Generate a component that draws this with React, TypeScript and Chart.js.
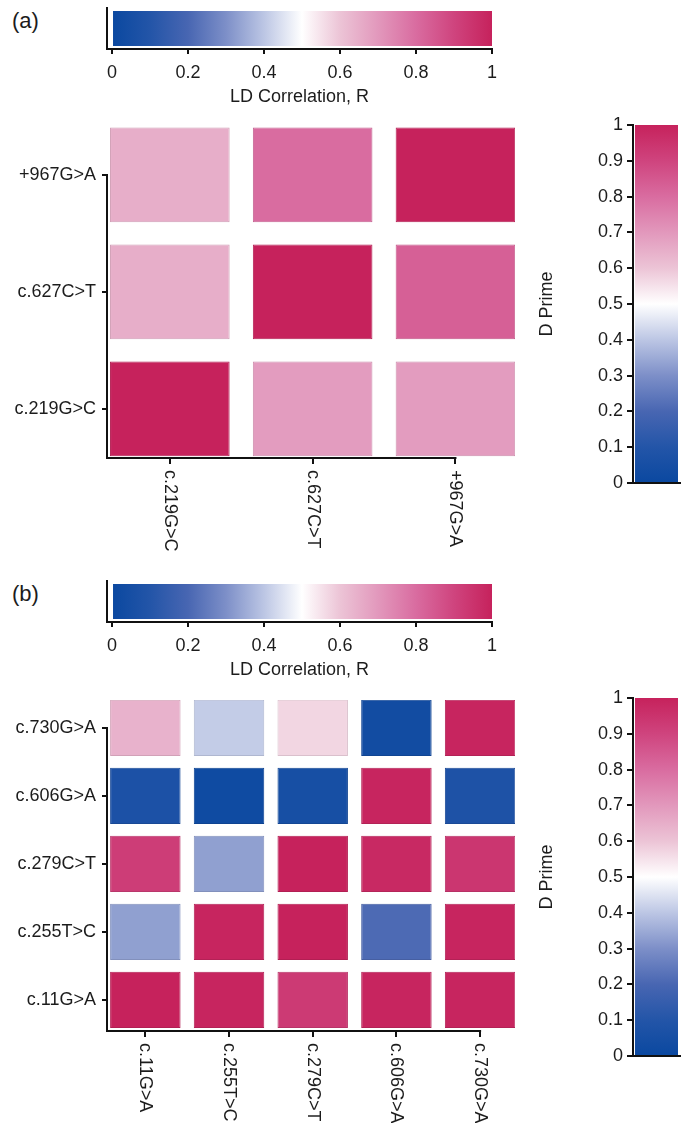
import React, { useEffect, useRef } from 'react';
import { Chart, registerables } from 'chart.js';

Chart.register(...registerables);

const FONT = "'Liberation Sans', Arial, Helvetica, sans-serif";
const INK = '#1c1c1c';

// ---------- Panel (a) ----------
const snpsA = ['c.219G>C', 'c.627C>T', '+967G>A'];
// rows listed bottom -> top, columns left -> right (same SNP order)
const valuesA_c219 = [1.0, 0.69, 0.69];
const valuesA_c627 = [0.65, 1.0, 0.83];
const valuesA_p967 = [0.65, 0.8, 1.0];
const valuesA = [valuesA_c219, valuesA_c627, valuesA_p967];

// ---------- Panel (b) ----------
const snpsB = ['c.11G>A', 'c.255T>C', 'c.279C>T', 'c.606G>A', 'c.730G>A'];
const valuesB_c11 = [1.0, 0.99, 0.93, 0.99, 0.99];
const valuesB_c255 = [0.33, 0.99, 1.0, 0.21, 0.99];
const valuesB_c279 = [0.92, 0.33, 1.0, 0.98, 0.94];
const valuesB_c606 = [0.07, 0.02, 0.05, 0.99, 0.08];
const valuesB_c730 = [0.64, 0.41, 0.57, 0.03, 0.99];
const valuesB = [valuesB_c11, valuesB_c255, valuesB_c279, valuesB_c606, valuesB_c730];

// ---------- colour scales ----------
const rTicks = [0, 0.2, 0.4, 0.6, 0.8, 1];
const dTicks = [0, 0.1, 0.2, 0.3, 0.4, 0.5, 0.6, 0.7, 0.8, 0.9, 1];
const cmapPos = [0, 0.1, 0.2, 0.3, 0.4, 0.5, 0.6, 0.7, 0.8, 0.9, 1];
const cmapRGB: number[][] = [
  [10, 72, 160],
  [35, 85, 168],
  [72, 102, 178],
  [125, 143, 200],
  [188, 198, 228],
  [255, 255, 255],
  [236, 196, 214],
  [226, 152, 188],
  [217, 108, 160],
  [207, 68, 126],
  [198, 34, 92],
];

function colorFor(v: number, shade = 1): string {
  let i = 0;
  while (i < cmapPos.length - 2 && v > cmapPos[i + 1]) i++;
  const t = Math.max(0, Math.min(1, (v - cmapPos[i]) / (cmapPos[i + 1] - cmapPos[i])));
  const a = cmapRGB[i], b = cmapRGB[i + 1];
  const c = a.map((x, k) => Math.round((x + (b[k] - x) * t) * shade));
  return `rgb(${c[0]},${c[1]},${c[2]})`;
}

function gradientFor(chart: any, axis: 'x' | 'y') {
  const area = chart.chartArea;
  if (!area) return 'rgba(0,0,0,0)';
  const s = chart.scales[axis];
  const p0 = s.getPixelForValue(0);
  const p1 = s.getPixelForValue(1);
  const g = axis === 'x'
    ? chart.ctx.createLinearGradient(p0, 0, p1, 0)
    : chart.ctx.createLinearGradient(0, p0, 0, p1);
  cmapPos.forEach((p) => g.addColorStop(p, colorFor(p)));
  return g;
}

const tickFont = { family: FONT, size: 18 };

function useChart(makeConfig: () => any) {
  const ref = useRef<HTMLCanvasElement>(null);
  useEffect(() => {
    const chart = new Chart(ref.current as HTMLCanvasElement, makeConfig());
    return () => chart.destroy();
  }, []);
  return ref;
}

// ---------- horizontal colour bar (LD Correlation, R) ----------
function TopBar({ top }: { top: number }) {
  const W = 520, H = 115;
  const ref = useChart(() => ({
    type: 'bar',
    data: {
      labels: [''],
      datasets: [{
        data: [[0, 1]],
        backgroundColor: (ctx: any) => gradientFor(ctx.chart, 'x'),
        borderWidth: 0,
        categoryPercentage: 0.854,
        barPercentage: 1,
      }],
    },
    options: {
      indexAxis: 'y',
      responsive: false,
      animation: false,
      layout: { padding: { top: 8, right: 28, left: 0, bottom: 0 } },
      plugins: { legend: { display: false }, tooltip: { enabled: false } },
      scales: {
        x: {
          type: 'linear', min: -0.0132, max: 1,
          afterBuildTicks: (s: any) => { s.ticks = rTicks.map(v => ({ value: v })); },
          ticks: { padding: 8, color: INK, font: tickFont, callback: (_v: any, i: number) => String(rTicks[i]) },
          grid: { display: true, drawOnChartArea: false, drawTicks: true, tickLength: 5, color: '#111', lineWidth: 2 },
          border: { display: true, color: '#111', width: 2 },
          title: { display: true, text: 'LD Correlation, R', color: INK, font: tickFont, padding: { top: 0, bottom: 7 } },
          afterFit: (s: any) => { s.height = 66; },
        },
        y: {
          type: 'category',
          ticks: { display: false },
          grid: { display: false },
          border: { display: true, color: '#111', width: 2 },
          afterFit: (s: any) => { s.width = 107; },
        },
      },
    },
  }));
  return <canvas ref={ref} width={W} height={H} style={{ position: 'absolute', left: 0, top, width: W, height: H }} />;
}

// ---------- vertical colour bar (D Prime) ----------
function SideBar({ top }: { top: number }) {
  const W = 171, H = 400;
  const ref = useChart(() => ({
    type: 'bar',
    data: {
      labels: [''],
      datasets: [{
        data: [[0, 1]],
        backgroundColor: (ctx: any) => gradientFor(ctx.chart, 'y'),
        borderWidth: 0,
        categoryPercentage: 0.915,
        barPercentage: 1,
      }],
    },
    options: {
      responsive: false,
      animation: false,
      layout: { padding: { top: 25, right: 11, left: 0, bottom: 0 } },
      plugins: { legend: { display: false }, tooltip: { enabled: false } },
      scales: {
        x: {
          type: 'category',
          ticks: { display: false },
          grid: { display: false },
          border: { display: true, color: '#111', width: 2 },
          afterFit: (s: any) => { s.height = 17; },
        },
        y: {
          type: 'linear', min: 0, max: 1,
          afterBuildTicks: (s: any) => { s.ticks = dTicks.map(v => ({ value: v })); },
          ticks: { padding: 4, color: INK, font: tickFont, callback: (_v: any, i: number) => String(dTicks[i]) },
          grid: { display: true, drawOnChartArea: false, drawTicks: true, tickLength: 6, color: '#111', lineWidth: 2 },
          border: { display: true, color: '#111', width: 2 },
          title: { display: true, text: 'D Prime', color: INK, font: tickFont, padding: { top: 16, bottom: 0 } },
          afterFit: (s: any) => { s.width = 113; },
        },
      },
    },
  }));
  return <canvas ref={ref} width={W} height={H} style={{ position: 'absolute', left: 520, top, width: W, height: H }} />;
}

// ---------- heat map ----------
const heatAxes = {
  id: 'heatAxes',
  afterDraw(chart: any, _args: any, opts: any) {
    const { ctx, chartArea, scales } = chart;
    const x = scales.x, y = scales.y;
    const xt = x.ticks, yt = y.ticks;
    ctx.save();
    ctx.strokeStyle = '#111';
    ctx.lineWidth = 2;
    ctx.beginPath();
    ctx.moveTo(chartArea.left, y.getPixelForValue(yt[yt.length - 1].value) - 1);
    ctx.lineTo(chartArea.left, chartArea.bottom);
    ctx.lineTo(x.getPixelForValue(xt[xt.length - 1].value) + 1, chartArea.bottom);
    ctx.stroke();
    ctx.fillStyle = INK;
    ctx.font = `18px ${FONT}`;
    ctx.textAlign = 'left';
    ctx.textBaseline = 'middle';
    xt.forEach((t: any, i: number) => {
      const px = x.getPixelForValue(t.value);
      ctx.save();
      ctx.translate(px, chartArea.bottom + opts.offset);
      ctx.rotate(Math.PI / 2);
      ctx.fillText(opts.labels[i], 0, 0);
      ctx.restore();
    });
    ctx.restore();
  },
};

type Geom = { xMin: number; xMax: number; yMin: number; yMax: number; cellW: number; halfH: number };

function HeatMap({ top, height, snps, values, geom }: { top: number; height: number; snps: string[]; values: number[][]; geom: Geom }) {
  const W = 540;
  const ref = useChart(() => ({
    type: 'bar',
    data: {
      datasets: values.map((row, r) => ({
        data: row.map((_, c) => ({ x: c, y: [r - geom.halfH, r + geom.halfH] })),
        backgroundColor: row.map(v => colorFor(v)),
        borderColor: row.map(v => colorFor(v, 0.9)),
        borderWidth: 1,
        borderSkipped: false,
        grouped: false,
        categoryPercentage: geom.cellW,
        barPercentage: 1,
      })),
    },
    options: {
      responsive: false,
      animation: false,
      layout: { padding: { top: 17, right: 25, left: 0, bottom: 0 } },
      plugins: { legend: { display: false }, tooltip: { enabled: false }, heatAxes: { labels: snps, offset: 12 } },
      scales: {
        x: {
          type: 'linear', min: geom.xMin, max: geom.xMax, offset: false,
          afterBuildTicks: (s: any) => { s.ticks = snps.map((_, i) => ({ value: i })); },
          ticks: { display: false },
          grid: { display: true, offset: false, drawOnChartArea: false, drawTicks: true, tickLength: 6, color: '#111', lineWidth: 2 },
          border: { display: false },
          afterFit: (s: any) => { s.height = height - 17 - 331; },
        },
        y: {
          type: 'linear', min: geom.yMin, max: geom.yMax, offset: false,
          afterBuildTicks: (s: any) => { s.ticks = snps.map((_, i) => ({ value: i })); },
          ticks: { padding: 6, color: INK, font: tickFont, callback: (_v: any, i: number) => snps[i] },
          grid: { display: true, offset: false, drawOnChartArea: false, drawTicks: true, tickLength: 5, color: '#111', lineWidth: 2 },
          border: { display: false },
          afterFit: (s: any) => { s.width = 107; },
        },
      },
    },
    plugins: [heatAxes],
  }));
  return <canvas ref={ref} width={W} height={height} style={{ position: 'absolute', left: 0, top, width: W, height }} />;
}

const geomA: Geom = { xMin: -0.44, xMax: 2.417, yMin: -0.42, yMax: 2.41, cellW: 0.8375, halfH: 0.405 };
const geomB: Geom = { xMin: -0.458, xMax: 4.417, yMin: -0.457, yMax: 4.41, cellW: 0.842, halfH: 0.413 };

const panelLabel: React.CSSProperties = {
  position: 'absolute', left: 12, fontFamily: FONT, fontSize: 22, lineHeight: '22px', color: INK,
};

export default function App() {
  return (
    <div style={{ position: 'absolute', left: 0, top: 0, width: 691, height: 1128, overflow: 'hidden', background: '#fff' }}>
      <div style={{ ...panelLabel, top: 10 }}>(a)</div>
      <TopBar top={0} />
      <HeatMap top={110} height={450} snps={snpsA} values={valuesA} geom={geomA} />
      <SideBar top={100} />

      <div style={{ ...panelLabel, top: 583 }}>(b)</div>
      <TopBar top={573} />
      <HeatMap top={683} height={440} snps={snpsB} values={valuesB} geom={geomB} />
      <SideBar top={673} />
    </div>
  );
}
